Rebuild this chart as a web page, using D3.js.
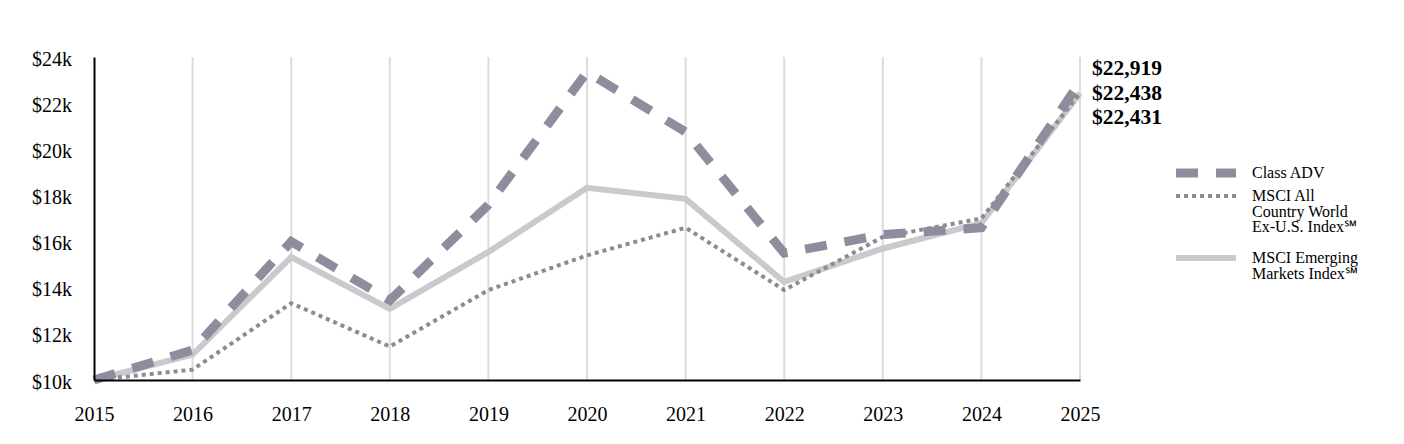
<!DOCTYPE html>
<html>
<head>
<meta charset="utf-8">
<script src="https://cdn.jsdelivr.net/npm/d3@7"></script>
<style>
  body { margin: 0; background: #fff; }
  svg text { font-family: "Liberation Serif", "DejaVu Serif", serif; fill: #000; }
</style>
</head>
<body>
<svg id="chart" width="1404" height="444"></svg>
<script>
// values
var years = [2015, 2016, 2017, 2018, 2019, 2020, 2021, 2022, 2023, 2024, 2025];
var classAdv = [10000, 11300, 16000, 13450, 17600, 23350, 20750, 15500, 16300, 16600, 22919];
var msciAcwi = [10000, 10450, 13330, 11450, 13900, 15400, 16600, 13900, 16200, 17000, 22438];
var msciEm = [10000, 11100, 15330, 13080, 15550, 18330, 17850, 14250, 15700, 16800, 22431];
var yTicks = [10000, 12000, 14000, 16000, 18000, 20000, 22000, 24000];
var endLabels = ["$22,919", "$22,438", "$22,431"];

var svg = d3.select('#chart');
var margins = { top: 57, left: 94, right: 324, bottom: 64 };
var width = 1404, height = 444;

var x = d3.scaleLinear()
  .domain([2015, 2025])
  .range([margins.left, width - margins.right]);
var y = d3.scaleLinear()
  .domain([10000, 24000])
  .range([height - margins.bottom, margins.top]);

// vertical grid
svg.append('g').selectAll('line')
  .data(years.slice(1))
  .enter().append('line')
  .attr('x1', function(d){ return x(d); })
  .attr('x2', function(d){ return x(d); })
  .attr('y1', y(24000))
  .attr('y2', y(10000))
  .attr('stroke', '#dcdcdc')
  .attr('stroke-width', 2);

var line = d3.line()
  .x(function(d, i){ return x(years[i]); })
  .y(function(d){ return y(d); });

var series = [
  { name: 'em', data: msciEm, color: '#c9c9ce', width: 6, dash: null },
  { name: 'acwi', data: msciAcwi, color: '#8c8b92', width: 4, dash: '4,4' },
  { name: 'adv', data: classAdv, color: '#8f8d9d', width: 9, dash: '22,18' }
];

series.forEach(function(s){
  svg.append('path')
    .attr('d', line(s.data))
    .attr('fill', 'none')
    .attr('stroke', s.color)
    .attr('stroke-width', s.width)
    .attr('stroke-dasharray', s.dash);
});

// axes
var yAxis = svg.append('g')
  .attr('transform', 'translate(' + margins.left + ',0)')
  .call(d3.axisLeft(y).tickValues(yTicks).tickSize(0).tickPadding(22)
    .tickFormat(function(d){ return '$' + (d / 1000) + 'k'; }));
yAxis.select('.domain').attr('stroke', '#000').attr('stroke-width', 2);
yAxis.selectAll('text').style('font-size', '20px').attr('dy', '0.4em').attr('fill', '#000');

var xAxis = svg.append('g')
  .attr('transform', 'translate(0,' + y(10000) + ')')
  .call(d3.axisBottom(x).tickValues(years).tickSize(0).tickPadding(27)
    .tickFormat(d3.format('d')));
xAxis.select('.domain').attr('stroke', '#000').attr('stroke-width', 2);
xAxis.selectAll('text').style('font-size', '20px').attr('fill', '#000');

// end value labels
svg.append('g').selectAll('text')
  .data(endLabels)
  .enter().append('text')
  .attr('x', x(2025) + 12)
  .attr('y', function(d, i){ return 75 + i * 24.5; })
  .style('font-size', '21.5px')
  .style('font-weight', 'bold')
  .text(function(d){ return d; });

// legend
var legend = [
  { s: series[2], lines: ['Class ADV'], y: 173 },
  { s: series[1], lines: ['MSCI All', 'Country World', 'Ex-U.S. Index\u2120'], y: 196 },
  { s: series[0], lines: ['MSCI Emerging', 'Markets Index\u2120'], y: 258 }
];
legend.forEach(function(l){
  svg.append('line')
    .attr('x1', 1176).attr('x2', 1236)
    .attr('y1', l.y).attr('y2', l.y)
    .attr('stroke', l.s.color)
    .attr('stroke-width', l.s.width)
    .attr('stroke-dasharray', l.s.dash);
  var t = svg.append('text')
    .attr('x', 1252)
    .attr('y', l.y + 5)
    .style('font-size', '16px');
  l.lines.forEach(function(txt, i){
    t.append('tspan').attr('x', 1252).attr('dy', i ? 15.5 : 0).text(txt);
  });
});
</script>
</body>
</html>
